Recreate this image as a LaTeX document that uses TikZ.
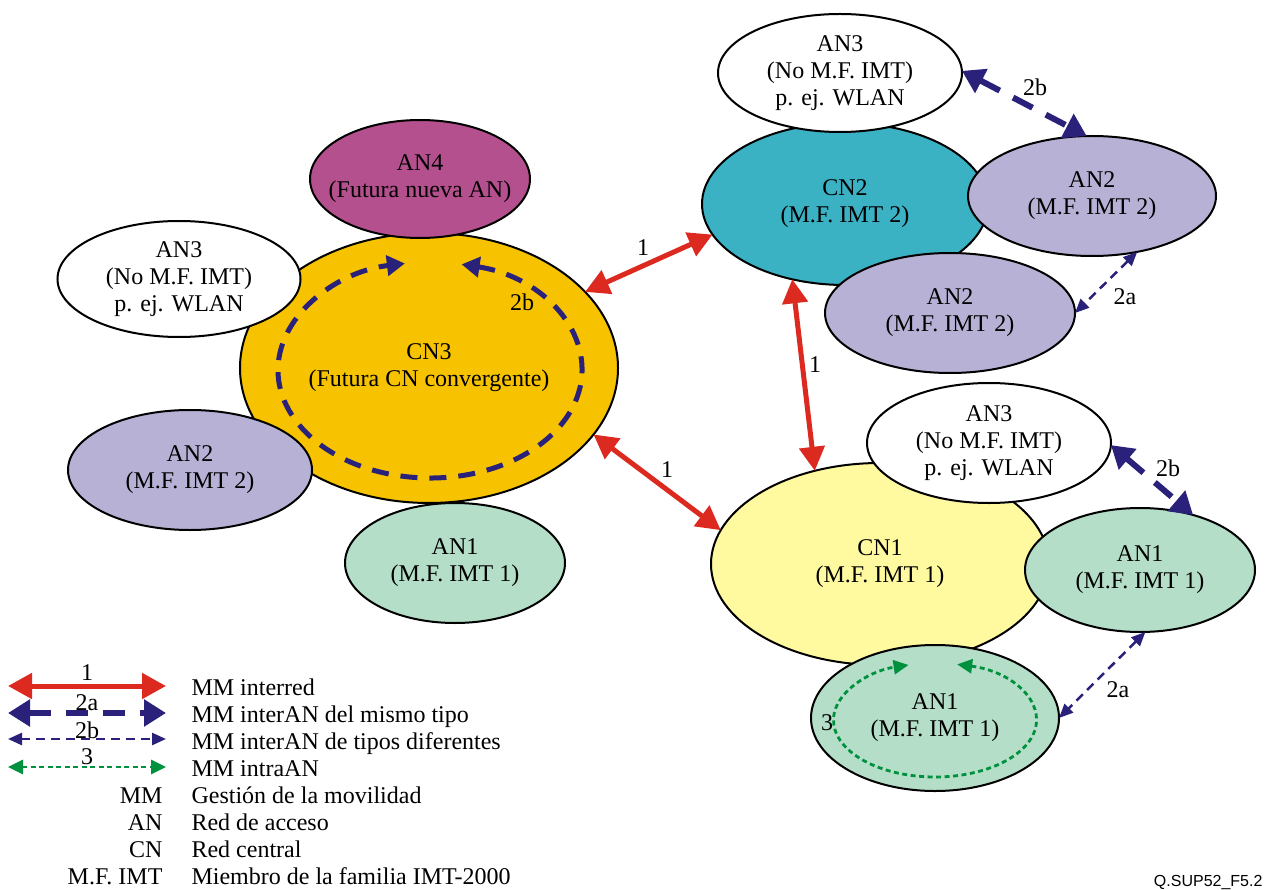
\documentclass[tikz,border=0pt]{standalone}
\usepackage{fontspec}
\setmainfont{Liberation Serif}
\newfontfamily\tagfont{Liberation Sans}
\usetikzlibrary{arrows.meta,shapes.geometric}

\definecolor{cnthree}{HTML}{F7C300}
\definecolor{cntwo}{HTML}{3BB1C4}
\definecolor{cnone}{HTML}{FFF9A0}
\definecolor{anfour}{HTML}{B5508F}
\definecolor{anlav}{HTML}{B8B1D6}
\definecolor{anmint}{HTML}{B4DEC8}
\definecolor{mmred}{HTML}{DD2A20}
\definecolor{mmblue}{HTML}{29217A}
\definecolor{mmgreen}{HTML}{00913F}

\begin{document}
\begin{tikzpicture}[x=1pt,y=1pt,
  every node/.style={font=\fontsize{24}{27}\selectfont},
  net/.style={ellipse, draw=black, line width=2pt, inner sep=0pt, outer sep=0pt},
  mmnet/.style={draw=mmred, line width=5pt,
    {Triangle[length=24pt,width=25pt]}-{Triangle[length=24pt,width=25pt]}},
  mmthick/.style={draw=mmblue, line width=6pt, dash pattern=on 22pt off 15pt,
    {Triangle[length=22pt,width=26pt]}-{Triangle[length=22pt,width=26pt]}},
  mmthin/.style={draw=mmblue, line width=2.5pt, dash pattern=on 9pt off 6pt,
    {Triangle[length=14pt,width=12pt]}-{Triangle[length=14pt,width=12pt]}},
  mmdot/.style={draw=mmgreen, line width=2.8pt, dash pattern=on 5pt off 3.5pt,
    {Triangle[length=15pt,width=14pt]}-{Triangle[length=15pt,width=14pt]}},
  mmring/.style={draw=mmblue, line width=5pt, dash pattern=on 17pt off 12pt,
    {Triangle[length=18pt,width=20pt]}-{Triangle[length=18pt,width=20pt]}},
  keytext/.style={anchor=base west},
  keyterm/.style={anchor=base east}]

\fill[white] (0,0) rectangle (1273,-890);
\useasboundingbox (0,0) rectangle (1273,-890);

% ---- convergent core network CN3 and its access networks
\node[net, fill=cnthree, minimum width=378, minimum height=270,
  label={[align=center]center:{CN3\\(Futura CN convergente)}}] (cn3) at (429,-368) {};
\node[net, fill=white, minimum width=243, minimum height=116,
  label={[align=center]center:{AN3\\(No M.F. IMT)\\p. ej. WLAN}}] (an3l) at (179,-279) {};
\node[net, fill=anfour, minimum width=220, minimum height=118,
  label={[align=center]center:{AN4\\(Futura nueva AN)}}] (an4) at (420,-179) {};
\node[net, fill=anlav, minimum width=244, minimum height=120,
  label={[align=center]center:{AN2\\(M.F. IMT 2)}}] (an2l) at (190,-470) {};
\node[net, fill=anmint, minimum width=220, minimum height=120,
  label={[align=center]center:{AN1\\(M.F. IMT 1)}}] (an1l) at (455,-563) {};

% ---- core network CN2 and its access networks
\node[net, fill=cntwo, minimum width=286, minimum height=162,
  label={[align=center]center:{CN2\\(M.F. IMT 2)}}] (cn2) at (845,-204) {};
\node[net, fill=white, minimum width=244, minimum height=118,
  label={[align=center]center:{AN3\\(No M.F. IMT)\\p. ej. WLAN}}] (an3t) at (840,-73) {};
\node[net, fill=anlav, minimum width=248, minimum height=120,
  label={[align=center]center:{AN2\\(M.F. IMT 2)}}] (an2t) at (1092,-196) {};
\node[net, fill=anlav, minimum width=250, minimum height=120,
  label={[align=center]center:{AN2\\(M.F. IMT 2)}}] (an2b) at (950,-313) {};

% ---- core network CN1 and its access networks
\node[net, fill=cnone, minimum width=338, minimum height=202,
  label={[align=center]center:{CN1\\(M.F. IMT 1)}}] (cn1) at (880,-564) {};
\node[net, fill=white, minimum width=244, minimum height=120,
  label={[align=center]center:{AN3\\(No M.F. IMT)\\p. ej. WLAN}}] (an3m) at (989,-443) {};
\node[net, fill=anmint, minimum width=230, minimum height=124,
  label={[align=center]center:{AN1\\(M.F. IMT 1)}}] (an1r) at (1140,-570) {};
\node[net, fill=anmint, minimum width=248, minimum height=146,
  label={[align=center]center:{AN1\\(M.F. IMT 1)}}] (an1b) at (935,-718) {};

% ---- inter-network mobility
\draw[mmnet] (cn3.26) -- (cn2.193);
\draw[mmnet] (cn3.-22) -- (cn1.168);
\draw[mmnet] (cn2.235) -- (cn1.125);
\node (n1a) at (643,-248) {1};
\node (n1b) at (667,-470) {1};
\node (n1c) at (815,-365) {1};

% ---- inter-AN mobility
\draw[mmthick] (an3t.1) -- (an2t.95);
\draw[mmthin] (an2t.-51) -- (an2b.0);
\draw[mmthick] (an3m.-1) -- (an1r.46);
\draw[mmthin] (an1r.-85) -- (an1b.0);
\node (n2b1) at (1035,-87) {2b};
\node (n2a1) at (1125,-297) {2a};
\node (n2b2) at (1168,-468) {2b};
\node (n2a2) at (1118,-690) {2a};

% ---- mobility inside CN3 between its access networks
\coordinate (rc) at (430,-370);
\draw[mmring] ([shift={(78:152 and 108)}]rc)
  arc[start angle=78, end angle=-260.5, x radius=152, y radius=108];
\node (n2b3) at (522,-302) {2b};

% ---- intra-AN mobility inside AN1
\coordinate (gc) at (935,-720);
\draw[mmdot] ([shift={(77.4:101.5 and 57)}]gc)
  arc[start angle=77.4, end angle=-254.9, x radius=101.5, y radius=57];
\node (n3) at (827,-723) {3};

% ---- key
\coordinate (k1a) at (8,-686);   \coordinate (k1b) at (166,-686);
\coordinate (k2a) at (8,-713);   \coordinate (k2b) at (166,-713);
\coordinate (k3a) at (8,-739);   \coordinate (k3b) at (166,-739);
\coordinate (k4a) at (8,-767);   \coordinate (k4b) at (166,-767);
\draw[mmnet] (k1a) -- (k1b);
\draw[mmthick] (k2a) -- (k2b);
\draw[mmthin] (k3a) -- (k3b);
\draw[mmdot] (k4a) -- (k4b);
\node (kl1) at (87,-673) {1};
\node (kl2) at (87,-703) {2a};
\node (kl3) at (87,-730) {2b};
\node (kl4) at (87,-757) {3};

\node[keytext] (kt1) at (188,-695) {MM interred};
\node[keytext] (kt2) at (188,-722) {MM interAN del mismo tipo};
\node[keytext] (kt3) at (188,-749) {MM interAN de tipos diferentes};
\node[keytext] (kt4) at (188,-776) {MM intraAN};
\node[keyterm] (ka5) at (166,-803) {MM};
\node[keytext] (kt5) at (188,-803) {Gestión de la movilidad};
\node[keyterm] (ka6) at (166,-830) {AN};
\node[keytext] (kt6) at (188,-830) {Red de acceso};
\node[keyterm] (ka7) at (166,-857) {CN};
\node[keytext] (kt7) at (188,-857) {Red central};
\node[keyterm] (ka8) at (166,-884) {M.F. IMT};
\node[keytext] (kt8) at (188,-884) {Miembro de la familia IMT-2000};

\node[anchor=base east, font=\tagfont\fontsize{16}{18}\selectfont] (tag) at (1266,-886) {Q.SUP52\_F5.2};
\end{tikzpicture}
\end{document}
